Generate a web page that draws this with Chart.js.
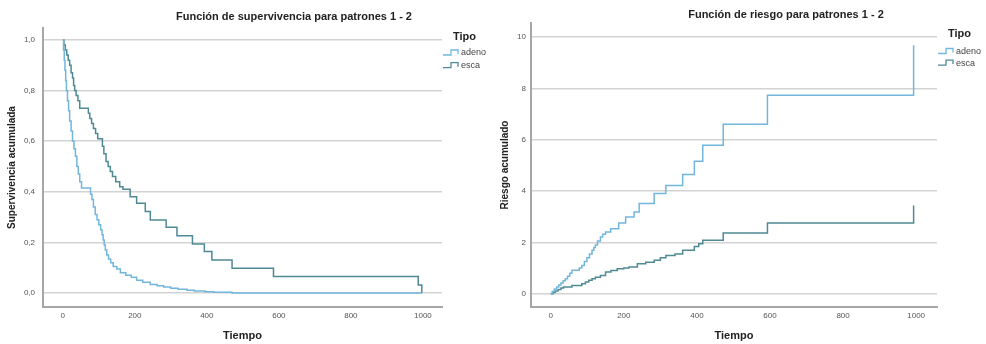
<!DOCTYPE html>
<html lang="es">
<head>
<meta charset="UTF-8">
<title>Supervivencia y riesgo - patrones 1 - 2</title>
<script src="https://cdn.jsdelivr.net/npm/chart.js"></script>
<style>
  body { margin: 0; background: #fff; }
  #wrap { position: relative; width: 986px; height: 344px; }
  canvas { position: absolute; top: 0; }
  #surv { left: 0; }
  #risk { left: 490px; }
</style>
</head>
<body>
<div id="wrap">
  <canvas id="surv" width="490" height="344"></canvas>
  <canvas id="risk" width="496" height="344"></canvas>
</div>
<script>
// series names
const tipos = ['adeno', 'esca'];
const colores = ['#72b6dc', '#4f8a94'];

// supervivencia acumulada (tiempo, valor)
const adenoSurvT = [0, 2, 4, 6, 8, 10, 13, 16, 19, 23, 27, 31, 35, 39, 43, 47, 52, 77, 81, 85, 90, 95, 100, 105, 109, 112, 115, 118, 122, 127, 133, 140, 150, 160, 175, 190, 205, 222, 243, 262, 280, 300, 320, 345, 365, 395, 420, 470, 997];
const adenoSurvS = [1.0, 0.96, 0.92, 0.88, 0.84, 0.80, 0.76, 0.72, 0.68, 0.64, 0.60, 0.57, 0.54, 0.50, 0.47, 0.44, 0.415, 0.39, 0.37, 0.34, 0.31, 0.29, 0.27, 0.25, 0.23, 0.21, 0.19, 0.17, 0.15, 0.135, 0.12, 0.105, 0.095, 0.08, 0.07, 0.063, 0.051, 0.043, 0.034, 0.029, 0.024, 0.019, 0.015, 0.011, 0.008, 0.005, 0.003, 0.0, 0.0];
const escaSurvT = [0, 3, 7, 11, 15, 19, 23, 27, 30, 33, 37, 42, 47, 71, 75, 80, 85, 91, 97, 110, 114, 120, 126, 132, 138, 147, 158, 167, 187, 205, 229, 243, 287, 317, 360, 393, 414, 470, 585, 987, 997];
const escaSurvS = [1.0, 0.98, 0.96, 0.94, 0.92, 0.90, 0.87, 0.85, 0.82, 0.80, 0.78, 0.76, 0.73, 0.71, 0.69, 0.67, 0.65, 0.63, 0.61, 0.58, 0.55, 0.52, 0.50, 0.48, 0.46, 0.44, 0.42, 0.41, 0.38, 0.355, 0.322, 0.289, 0.26, 0.226, 0.194, 0.164, 0.131, 0.098, 0.065, 0.032, 0.0];

// riesgo acumulado (tiempo, valor)
const adenoRiskT = [0, 4, 10, 16, 22, 28, 34, 40, 46, 52, 58, 78, 85, 92, 99, 106, 113, 118, 122, 128, 136, 142, 150, 164, 186, 205, 228, 242, 283, 315, 361, 393, 416, 472, 593, 993];
const adenoRiskH = [0, 0.08, 0.18, 0.26, 0.34, 0.42, 0.50, 0.58, 0.68, 0.80, 0.91, 1.0, 1.1, 1.25, 1.4, 1.55, 1.69, 1.8, 1.9, 2.05, 2.21, 2.32, 2.4, 2.53, 2.75, 2.99, 3.18, 3.51, 3.9, 4.22, 4.64, 5.16, 5.78, 6.6, 7.73, 9.68];
const escaRiskT = [0, 6, 12, 20, 28, 35, 58, 85, 95, 104, 113, 122, 136, 150, 165, 182, 200, 214, 237, 260, 283, 300, 315, 340, 361, 393, 405, 416, 472, 593, 993];
const escaRiskH = [0, 0.05, 0.1, 0.16, 0.22, 0.26, 0.32, 0.39, 0.45, 0.52, 0.58, 0.64, 0.71, 0.84, 0.9, 0.97, 1.0, 1.04, 1.17, 1.22, 1.30, 1.40, 1.49, 1.55, 1.69, 1.84, 1.95, 2.08, 2.36, 2.75, 3.44];

// ticks
const xTicks = [0, 200, 400, 600, 800, 1000];
const survTicks = [0, 0.2, 0.4, 0.6, 0.8, 1.0];
const riskTicks = [0, 2, 4, 6, 8, 10];

Chart.defaults.font.family = '"Liberation Sans", Arial, sans-serif';

function puntos(ts, vs) {
  return ts.map((t, i) => ({ x: t, y: vs[i] }));
}

function serie(i, ts, vs) {
  return {
    label: tipos[i],
    data: puntos(ts, vs),
    borderColor: colores[i],
    borderWidth: 1.5,
    pointRadius: 0,
    stepped: 'before',
    fill: false
  };
}

// titulo + leyenda "Tipo" dibujados a mano
const decor = {
  id: 'decor',
  afterDraw(chart, args, o) {
    const ctx = chart.ctx;
    ctx.save();
    ctx.fillStyle = '#222';
    ctx.font = 'bold 11px "Liberation Sans", Arial, sans-serif';
    ctx.textAlign = 'center';
    ctx.textBaseline = 'middle';
    ctx.fillText(o.title, o.titleX, o.titleY);

    ctx.textAlign = 'left';
    ctx.fillText('Tipo', o.legX + 10, o.legY);
    ctx.font = '9px "Liberation Sans", Arial, sans-serif';
    chart.data.datasets.forEach((ds, i) => {
      const y = o.legY + o.legFirst + i * o.legGap;
      const x0 = o.legX;
      ctx.strokeStyle = ds.borderColor;
      ctx.lineWidth = 1.3;
      ctx.beginPath();
      ctx.moveTo(x0, y + 2);
      ctx.lineTo(x0 + 8, y + 2);
      ctx.lineTo(x0 + 8, y - 3);
      ctx.lineTo(x0 + 15, y - 3);
      ctx.lineTo(x0 + 15, y + 1);
      ctx.stroke();
      ctx.fillStyle = '#444';
      ctx.fillText(ds.label, x0 + 18, y);
    });
    ctx.restore();
  }
};

function escalas(c) {
  return {
    x: {
      type: 'linear',
      min: c.xMin,
      max: c.xMax,
      afterBuildTicks: s => { s.ticks = xTicks.map(v => ({ value: v })); },
      afterFit: s => { s.height = c.xHeight; },
      grid: { display: false, drawTicks: false },
      border: { color: '#a6a6a6', width: 2 },
      ticks: { color: '#555', font: { size: 8 }, padding: 4, maxRotation: 0, callback: v => String(v) },
      title: { display: true, text: 'Tiempo', color: '#222', font: { size: 11, weight: 'bold' }, padding: { top: 0, bottom: 1.5 } }
    },
    y: {
      type: 'linear',
      min: c.yMin,
      max: c.yMax,
      afterBuildTicks: s => { s.ticks = c.yTicks.map(v => ({ value: v })); },
      afterFit: s => { s.width = c.yWidth; },
      grid: { color: '#d3d3d3', lineWidth: 1.5, drawTicks: false },
      border: { color: '#a6a6a6', width: 2 },
      ticks: { color: '#555', font: { size: 8 }, padding: c.yPad, callback: c.fmt },
      title: { display: true, text: c.yTitle, color: '#222', font: { size: 10, weight: 'bold' }, padding: { top: c.yTitlePad, bottom: 0 } }
    }
  };
}

new Chart(document.getElementById('surv'), {
  type: 'line',
  data: {
    datasets: [
      serie(0, adenoSurvT, adenoSurvS),
      serie(1, escaSurvT, escaSurvS)
    ]
  },
  options: {
    responsive: false,
    animation: false,
    devicePixelRatio: 1,
    layout: { padding: { top: 28, right: 48, left: 0, bottom: 0 } },
    plugins: {
      legend: { display: false },
      tooltip: { enabled: false },
      decor: { title: 'Función de supervivencia para patrones 1 - 2', titleX: 294, titleY: 17, legX: 443, legY: 37, legFirst: 16, legGap: 12.7 }
    },
    scales: escalas({
      xMin: -55, xMax: 1053, xHeight: 37,
      yMin: -0.055, yMax: 1.047, yTicks: survTicks, yWidth: 43, yPad: 8,
      yTitle: 'Supervivencia acumulada', yTitlePad: 6.5,
      fmt: v => v.toFixed(1).replace('.', ',')
    })
  },
  plugins: [decor]
});

new Chart(document.getElementById('risk'), {
  type: 'line',
  data: {
    datasets: [
      serie(0, adenoRiskT, adenoRiskH),
      serie(1, escaRiskT, escaRiskH)
    ]
  },
  options: {
    responsive: false,
    animation: false,
    devicePixelRatio: 1,
    layout: { padding: { top: 23, right: 49, left: 0, bottom: 0 } },
    plugins: {
      legend: { display: false },
      tooltip: { enabled: false },
      decor: { title: 'Función de riesgo para patrones 1 - 2', titleX: 296, titleY: 15, legX: 448, legY: 34, legFirst: 17.5, legGap: 11.6 }
    },
    scales: escalas({
      xMin: -54, xMax: 1057, xHeight: 37,
      yMin: -0.52, yMax: 10.55, yTicks: riskTicks, yWidth: 41, yPad: 5,
      yTitle: 'Riesgo acumulado', yTitlePad: 9,
      fmt: v => String(v)
    })
  },
  plugins: [decor]
});
</script>
</body>
</html>
